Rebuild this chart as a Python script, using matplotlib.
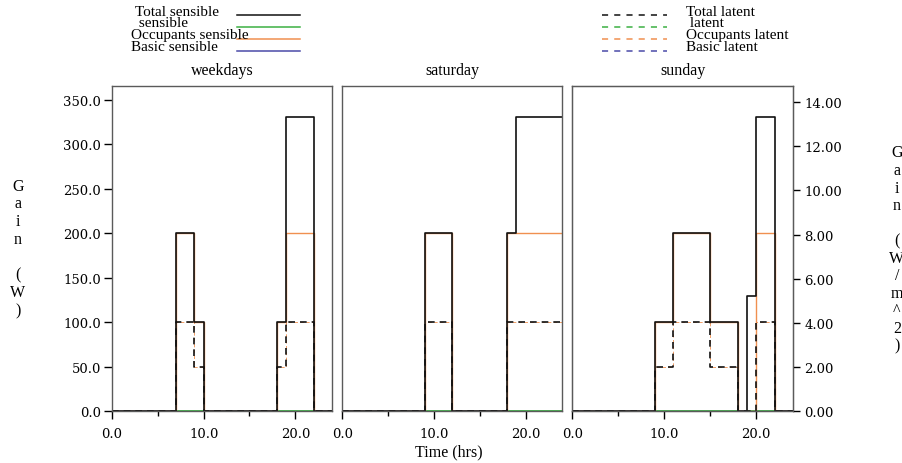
import numpy as np
import matplotlib
matplotlib.use("Agg")
import matplotlib.pyplot as plt
from matplotlib.lines import Line2D
from matplotlib.ticker import MultipleLocator, FormatStrFormatter

nan = np.nan

# hour edges, one value per hour 0..23
hours = np.arange(0, 25)

day_titles = ["weekdays", "saturday", "sunday"]

# total sensible gain (W)
total_sens = [
    [0, 0, 0, 0, 0, 0, 0, 200, 200, 100, 0, 0, 0, 0, 0, 0, 0, 0, 100, 330, 330, 330, 0, 0],
    [0, 0, 0, 0, 0, 0, 0, 0, 0, 200, 200, 200, 0, 0, 0, 0, 0, 0, 200, 330, 330, 330, 330, 330],
    [0, 0, 0, 0, 0, 0, 0, 0, 0, 100, 100, 200, 200, 200, 200, 100, 100, 100, 0, 130, 330, 330, 0, 0],
]
# total latent gain (W)
total_lat = [
    [0, 0, 0, 0, 0, 0, 0, 100, 100, 50, 0, 0, 0, 0, 0, 0, 0, 0, 50, 100, 100, 100, 0, 0],
    [0, 0, 0, 0, 0, 0, 0, 0, 0, 100, 100, 100, 0, 0, 0, 0, 0, 0, 100, 100, 100, 100, 100, 100],
    [0, 0, 0, 0, 0, 0, 0, 0, 0, 50, 50, 100, 100, 100, 100, 50, 50, 50, 0, 0, 100, 100, 0, 0],
]
# occupants sensible (W)
occ_sens = [
    [0, 0, 0, 0, 0, 0, 0, 200, 200, 100, 0, 0, 0, 0, 0, 0, 0, 0, 100, 200, 200, 200, 0, 0],
    [0, 0, 0, 0, 0, 0, 0, 0, 0, 200, 200, 200, 0, 0, 0, 0, 0, 0, 200, 200, 200, 200, 200, 200],
    [0, 0, 0, 0, 0, 0, 0, 0, 0, 100, 100, 200, 200, 200, 200, 100, 100, 100, 0, 0, 200, 200, 0, 0],
]
# occupants latent (W)
occ_lat = total_lat
# unnamed "sensible" gain, only defined in some hours
other_sens = [
    [nan] * 7 + [0, 0, 0] + [nan] * 8 + [0, 0, 0, 0] + [nan] * 2,
    [nan] * 9 + [0, 0, 0] + [nan] * 6 + [0] * 6,
    [nan] * 9 + [0] * 9 + [nan] + [0, 0, 0] + [nan] * 2,
]
# basic gains (W)
basic_sens = [[0] * 24, [0] * 24, [0] * 24]
basic_lat = [[0] * 24, [0] * 24, [0] * 24]

floor_area = 24.8  # m^2, W -> W/m^2 for right axis

c_total = "#111111"
c_other = "#3cb043"
c_occ = "#f09050"
c_basic = "#4a4aa8"
spine_c = "#5a5a5a"
serif = "Liberation Serif"
tickfont = "DejaVu Serif"

W, H = 903, 464


def px(x0, y0, x1, y1):
    return [x0 / W, 1 - y1 / H, (x1 - x0) / W, (y1 - y0) / H]


def stepline(ax, vals, **kw):
    y = list(vals) + [vals[-1]]
    ax.step(hours, y, where="post", **kw)


fig = plt.figure(figsize=(9.03, 4.64), dpi=100)

boxes = [(112, 87.3, 332, 412.3), (342.3, 87.3, 562.3, 412.3), (572.3, 87.3, 793, 412.3)]
dash = (0, (4, 3))

axes = []
for i, b in enumerate(boxes):
    ax = fig.add_axes(px(*b))
    stepline(ax, basic_sens[i], color=c_basic, lw=0.8)
    stepline(ax, basic_lat[i], color=c_basic, lw=0.8, linestyle=dash)
    stepline(ax, other_sens[i], color=c_other, lw=1.3)
    stepline(ax, occ_sens[i], color=c_occ, lw=1.0)
    stepline(ax, occ_lat[i], color=c_occ, lw=0.6, linestyle=dash)
    stepline(ax, total_sens[i], color=c_total, lw=1.2)
    stepline(ax, total_lat[i], color=c_total, lw=1.2, linestyle=dash)

    ax.set_xlim(0, 24)
    ax.set_ylim(0, 365)
    for s in ax.spines.values():
        s.set_color(spine_c)
        s.set_linewidth(1)
    ax.xaxis.set_major_locator(MultipleLocator(10))
    ax.xaxis.set_minor_locator(MultipleLocator(5))
    ax.xaxis.set_major_formatter(FormatStrFormatter("%.1f"))
    ax.tick_params(axis="x", which="major", length=6, width=1, pad=5,
                   labelsize=9.5, color="black")
    ax.tick_params(axis="x", which="minor", length=3.5, width=1, color="black")
    for lab in ax.get_xticklabels():
        lab.set_fontfamily(tickfont)
    if i == 0:
        ax.yaxis.set_major_locator(MultipleLocator(50))
        ax.yaxis.set_major_formatter(FormatStrFormatter("%.1f"))
        ax.tick_params(axis="y", length=6, width=1, pad=2, labelsize=9.5)
        for lab in ax.get_yticklabels():
            lab.set_fontfamily(tickfont)
    else:
        ax.set_yticks([])
    ax.set_title(day_titles[i], fontfamily=serif, fontsize=11.5, pad=9)
    axes.append(ax)

# right axis in W/m^2 on the sunday panel
ax2 = axes[2].twinx()
ax2.set_ylim(0, 365 / floor_area)
ax2.yaxis.set_major_locator(MultipleLocator(2))
ax2.yaxis.set_major_formatter(FormatStrFormatter("%.2f"))
ax2.tick_params(axis="y", length=5, width=1, pad=3, labelsize=9.5)
for lab in ax2.get_yticklabels():
    lab.set_fontfamily(tickfont)
for s in ax2.spines.values():
    s.set_color(spine_c)

# axis labels, one letter per line
fig.text(18 / W, 1 - 249 / H, "G\na\ni\nn\n\n(\nW\n)", ha="center", va="center",
         fontfamily=serif, fontsize=11.5, linespacing=1.15)
fig.text(897 / W, 1 - 250 / H, "G\na\ni\nn\n\n(\nW\n/\nm\n^\n2\n)", ha="center", va="center",
         fontfamily=serif, fontsize=11.5, linespacing=1.13)
fig.text(449 / W, 1 - 452 / H, "Time (hrs)", ha="center", va="center",
         fontfamily=serif, fontsize=11.5)

# legend drawn by hand at the top
sens_labels = ["Total sensible", " sensible", "Occupants sensible", "Basic sensible"]
lat_labels = ["Total latent", " latent", "Occupants latent", "Basic latent"]
leg_colors = [c_total, c_other, c_occ, c_basic]
line_y = [15.5, 27.5, 40, 52]
text_y = [12, 23.5, 35.5, 47.5]
text_x = [135, 135, 131, 131]
for k in range(4):
    fig.add_artist(Line2D([237 / W, 300 / W], [1 - line_y[k] / H] * 2, color=leg_colors[k],
                          lw=1.1, transform=fig.transFigure))
    fig.text(text_x[k] / W, 1 - text_y[k] / H, sens_labels[k], ha="left", va="center",
             fontfamily=serif, fontsize=11)
    fig.add_artist(Line2D([602 / W, 667 / W], [1 - line_y[k] / H] * 2, color=leg_colors[k],
                          lw=1.1, linestyle=(0, (4, 4)), transform=fig.transFigure))
    fig.text(686 / W, 1 - text_y[k] / H, lat_labels[k], ha="left", va="center",
             fontfamily=serif, fontsize=11)

plt.savefig("out.png", dpi=100)
